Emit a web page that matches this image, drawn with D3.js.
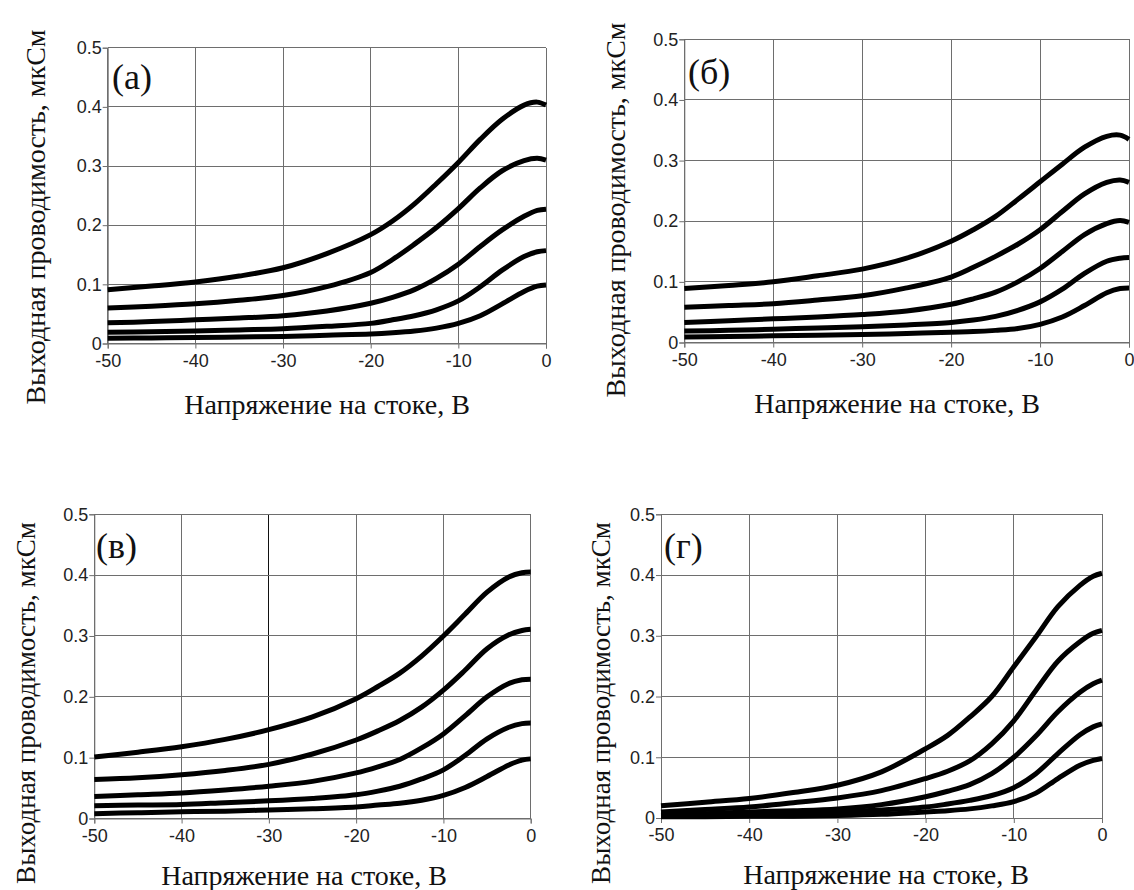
<!DOCTYPE html>
<html>
<head>
<meta charset="utf-8">
<script src="https://cdn.jsdelivr.net/npm/d3@7"></script>
<style>
  html, body { margin: 0; padding: 0; background: #fff; }
  svg { display: block; }
</style>
</head>
<body>
<svg id="chart" width="1134" height="890"></svg>
<script>
// ---- data ----
const xValues = [-50, -45, -40, -35, -30, -25, -20, -17.5, -15, -12.5, -10, -7.5, -5, -2.5, -1, 0];
const xTicks = [-50, -40, -30, -20, -10, 0];
const yTicks = [0, 0.1, 0.2, 0.3, 0.4, 0.5];
const panelLabels = ["(а)", "(б)", "(в)", "(г)"];
const xTitle = "Напряжение на стоке, В";
const yTitle = "Выходная проводимость, мкСм";

const seriesA = [
  [0.091, 0.097, 0.104, 0.114, 0.128, 0.152, 0.184, 0.207, 0.236, 0.270, 0.306, 0.345, 0.379, 0.403, 0.408, 0.403],
  [0.060, 0.063, 0.067, 0.073, 0.081, 0.096, 0.120, 0.142, 0.168, 0.196, 0.228, 0.263, 0.292, 0.309, 0.313, 0.310],
  [0.035, 0.037, 0.040, 0.043, 0.047, 0.055, 0.068, 0.078, 0.091, 0.110, 0.134, 0.164, 0.192, 0.215, 0.225, 0.227],
  [0.019, 0.020, 0.021, 0.023, 0.025, 0.029, 0.034, 0.040, 0.047, 0.057, 0.072, 0.096, 0.124, 0.147, 0.155, 0.157],
  [0.009, 0.0095, 0.010, 0.011, 0.012, 0.014, 0.016, 0.018, 0.021, 0.026, 0.034, 0.047, 0.067, 0.088, 0.097, 0.099]
];
const seriesB = [
  [0.089, 0.094, 0.100, 0.110, 0.121, 0.139, 0.167, 0.186, 0.208, 0.236, 0.265, 0.294, 0.322, 0.340, 0.342, 0.335],
  [0.058, 0.061, 0.064, 0.070, 0.077, 0.090, 0.108, 0.124, 0.142, 0.162, 0.186, 0.216, 0.245, 0.264, 0.268, 0.264],
  [0.033, 0.036, 0.039, 0.042, 0.046, 0.052, 0.063, 0.072, 0.083, 0.100, 0.122, 0.150, 0.178, 0.196, 0.201, 0.198],
  [0.019, 0.020, 0.022, 0.024, 0.026, 0.029, 0.033, 0.037, 0.043, 0.053, 0.067, 0.088, 0.114, 0.134, 0.139, 0.140],
  [0.009, 0.010, 0.011, 0.012, 0.013, 0.015, 0.017, 0.018, 0.020, 0.023, 0.030, 0.042, 0.061, 0.082, 0.089, 0.090]
];
const seriesV = [
  [0.101, 0.109, 0.118, 0.130, 0.146, 0.167, 0.197, 0.217, 0.239, 0.267, 0.300, 0.336, 0.372, 0.397, 0.404, 0.405],
  [0.064, 0.067, 0.072, 0.079, 0.089, 0.106, 0.129, 0.144, 0.161, 0.183, 0.211, 0.244, 0.279, 0.302, 0.309, 0.311],
  [0.036, 0.039, 0.042, 0.047, 0.053, 0.061, 0.075, 0.085, 0.097, 0.116, 0.139, 0.169, 0.200, 0.222, 0.228, 0.229],
  [0.021, 0.022, 0.023, 0.026, 0.029, 0.033, 0.039, 0.045, 0.053, 0.065, 0.080, 0.104, 0.131, 0.150, 0.156, 0.157],
  [0.008, 0.0095, 0.011, 0.012, 0.014, 0.016, 0.019, 0.022, 0.025, 0.030, 0.038, 0.051, 0.069, 0.088, 0.096, 0.098]
];
const seriesG = [
  [0.020, 0.026, 0.032, 0.042, 0.054, 0.076, 0.114, 0.136, 0.166, 0.200, 0.249, 0.298, 0.348, 0.383, 0.398, 0.403],
  [0.010, 0.014, 0.018, 0.025, 0.033, 0.045, 0.065, 0.077, 0.094, 0.122, 0.160, 0.210, 0.258, 0.290, 0.304, 0.309],
  [0.005, 0.007, 0.010, 0.012, 0.015, 0.022, 0.035, 0.044, 0.055, 0.073, 0.100, 0.135, 0.175, 0.207, 0.221, 0.227],
  [0.003, 0.004, 0.005, 0.007, 0.010, 0.013, 0.018, 0.023, 0.029, 0.037, 0.050, 0.073, 0.106, 0.137, 0.150, 0.155],
  [0.002, 0.002, 0.003, 0.003, 0.004, 0.006, 0.010, 0.012, 0.015, 0.020, 0.027, 0.041, 0.065, 0.087, 0.095, 0.098]
];

// ---- layout (positions only) ----
const panels = [
  { series: seriesA, label: panelLabels[0], left: 107.7, right: 546, top: 47.7, bottom: 343.5,
    xTitleX: 327, xTitleY: 414, yTitleX: 45, yTitleY: 217, labelX: 112, labelY: 89 },
  { series: seriesB, label: panelLabels[1], left: 684.3, right: 1129, top: 39.3, bottom: 342.5,
    xTitleX: 897, xTitleY: 413, yTitleX: 625, yTitleY: 210, labelX: 688, labelY: 84 },
  { series: seriesV, label: panelLabels[2], left: 94.3, right: 530.7, top: 514.3, bottom: 818.5,
    xTitleX: 304, xTitleY: 885, yTitleX: 35, yTitleY: 703, labelX: 96, labelY: 558 },
  { series: seriesG, label: panelLabels[3], left: 661, right: 1102, top: 514.3, bottom: 818,
    xTitleX: 886, xTitleY: 884, yTitleX: 610, yTitleY: 703, labelX: 664, labelY: 558 }
];

const svg = d3.select("#chart");
const sans = "'Liberation Sans', Arimo, Arial, 'DejaVu Sans', sans-serif";
const serif = "'Liberation Serif', 'Times New Roman', Tinos, Times, 'Nimbus Roman', 'DejaVu Serif', 'Noto Serif', serif";
const gridColor = "#6e6e6e";

panels.forEach((p, pi) => {
  const x = d3.scaleLinear().domain([-50, 0]).range([p.left, p.right]);
  const y = d3.scaleLinear().domain([0, 0.5]).range([p.bottom, p.top]);
  const g = svg.append("g");

  // grid
  g.append("g").selectAll("line").data(xTicks).join("line")
    .attr("x1", d => x(d)).attr("x2", d => x(d))
    .attr("y1", y(0)).attr("y2", y(0.5))
    .attr("stroke", d => (pi === 2 && d === -30) ? "#111" : gridColor)
    .attr("stroke-width", 1).attr("shape-rendering", "crispEdges");
  g.append("g").selectAll("line").data(yTicks).join("line")
    .attr("x1", x(-50)).attr("x2", x(0))
    .attr("y1", d => y(d)).attr("y2", d => y(d))
    .attr("stroke", gridColor).attr("stroke-width", 1).attr("shape-rendering", "crispEdges");

  // axes
  const xAxis = d3.axisBottom(x).tickValues(xTicks).tickSize(5).tickPadding(3)
    .tickFormat(d => String(d));
  const yAxis = d3.axisLeft(y).tickValues(yTicks).tickSize(5).tickPadding(1)
    .tickFormat(d => d === 0 ? "0" : d.toFixed(1));

  const gx = g.append("g").attr("transform", `translate(0,${p.bottom})`).call(xAxis);
  const gy = g.append("g").attr("transform", `translate(${p.left},0)`).call(yAxis);
  [gx, gy].forEach(ax => {
    ax.attr("font-size", null).attr("font-family", null);
    ax.select(".domain").attr("stroke", gridColor);
    ax.selectAll(".tick line").attr("stroke", gridColor);
    ax.selectAll("text").style("font-family", sans).style("font-size", "18px").attr("fill", "#222");
  });
  gx.selectAll("text").attr("dy", "0.85em");

  // curves
  const line = d3.line()
    .x((d, i) => x(xValues[i]))
    .y(d => y(d))
    .curve(d3.curveCatmullRom.alpha(0.5));
  g.append("g").selectAll("path").data(p.series).join("path")
    .attr("d", d => line(d))
    .attr("fill", "none")
    .attr("stroke", "#000")
    .attr("stroke-width", 5)
    .attr("stroke-linejoin", "round");

  // panel label
  g.append("text").attr("x", p.labelX).attr("y", p.labelY)
    .style("font-family", serif).style("font-size", "36px").attr("fill", "#111")
    .text(p.label);

  // titles
  g.append("text").attr("x", p.xTitleX).attr("y", p.xTitleY)
    .attr("text-anchor", "middle")
    .style("font-family", serif).style("font-size", "28px").attr("fill", "#111")
    .text(xTitle);
  g.append("text")
    .attr("transform", `translate(${p.yTitleX},${p.yTitleY}) rotate(-90)`)
    .attr("text-anchor", "middle")
    .style("font-family", serif).style("font-size", pi >= 2 ? "27px" : "28px").attr("fill", "#111")
    .text(yTitle);
});
</script>
</body>
</html>
